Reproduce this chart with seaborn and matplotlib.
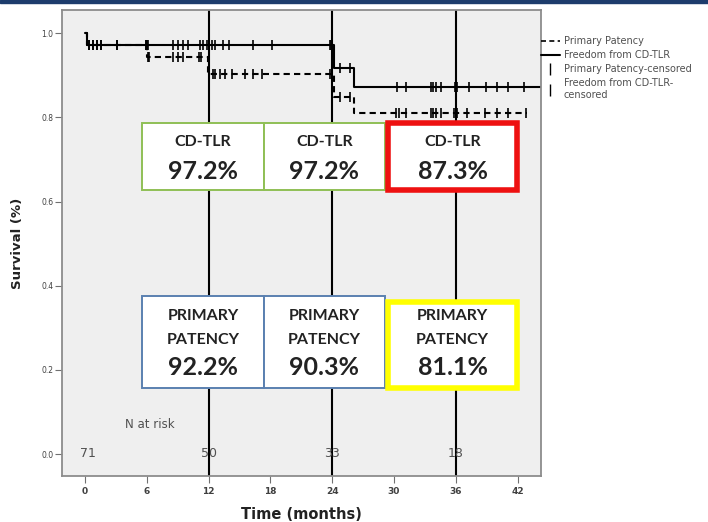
import numpy as np
import pandas as pd
import matplotlib
matplotlib.use("Agg")
import matplotlib.pyplot as plt
import seaborn as sns
from matplotlib.patches import Rectangle
from matplotlib.lines import Line2D

# Kaplan-Meier step estimates (months, survival fraction)
cdtlr_times = [0.0, 0.2, 24.2, 26.1, 44.3]
cdtlr_surv = [1.000, 0.972, 0.917, 0.873, 0.873]
patency_times = [0.0, 0.2, 6.0, 11.9, 24.2, 26.1, 42.9]
patency_surv = [1.000, 0.972, 0.944, 0.903, 0.848, 0.811, 0.811]

# censoring times
cdtlr_censored = [0.4, 0.8, 1.2, 1.6, 3.1, 5.9, 6.0, 6.1, 8.5, 9.0, 9.5, 10.0,
                  11.2, 11.5, 11.8, 12.0, 12.3, 12.6, 13.4, 14.0, 16.3, 18.2,
                  23.8, 23.9, 24.0, 24.8, 25.7, 30.3, 31.2, 33.6, 33.8, 34.1,
                  34.6, 35.9, 36.1, 37.3, 38.9, 40.0, 41.1, 42.6]
patency_censored = [0.4, 0.8, 1.2, 1.6, 3.1, 5.9, 6.1, 6.2, 8.5, 9.0, 9.5, 11.1,
                    11.3, 12.4, 12.6, 13.1, 13.6, 14.3, 15.5, 16.3, 17.2, 23.8,
                    24.0, 24.8, 25.7, 30.2, 30.5, 31.2, 33.6, 33.8, 34.1, 34.6,
                    35.8, 36.1, 37.1, 38.8, 40.0, 41.1, 42.8]

# numbers at risk
risk_times = [0, 12, 24, 36]
risk_counts = [71, 50, 33, 18]

# summary boxes
tlr_values = ["97.2%", "97.2%", "87.3%"]
patency_values = ["92.2%", "90.3%", "81.1%"]

x_ticks = [0, 6, 12, 18, 24, 30, 36, 42]
y_ticks = [0.0, 0.2, 0.4, 0.6, 0.8, 1.0]
milestones = [12, 24, 36]

series_tlr = "Freedom from CD-TLR"
series_pp = "Primary Patency"

curves = pd.concat([
    pd.DataFrame({"time": cdtlr_times, "surv": cdtlr_surv, "series": series_tlr}),
    pd.DataFrame({"time": patency_times, "surv": patency_surv, "series": series_pp}),
], ignore_index=True)


def step_value(times, surv, t):
    idx = np.searchsorted(times, t, side="right") - 1
    return np.asarray(surv)[idx]


censor = pd.concat([
    pd.DataFrame({"time": cdtlr_censored,
                  "surv": step_value(cdtlr_times, cdtlr_surv, cdtlr_censored)}),
    pd.DataFrame({"time": patency_censored,
                  "surv": step_value(patency_times, patency_surv, patency_censored)}),
], ignore_index=True)

sns.set_theme(style="white")
plt.rcParams["font.family"] = ["DejaVu Sans"]

fig = plt.figure(figsize=(7.08, 5.22), dpi=100)
ax = fig.add_axes([62 / 708, 46 / 522, 479 / 708, 466 / 522])
ax.set_facecolor("#efefef")

# header strip
fig.add_artist(Rectangle((0, 1 - 3 / 522), 1, 3 / 522, transform=fig.transFigure,
                         color="#1d3c6c", zorder=10))

for m in milestones:
    ax.axvline(m, color="black", lw=1.5, zorder=1)

sns.lineplot(data=curves, x="time", y="surv", style="series",
             dashes={series_tlr: "", series_pp: (3, 2)},
             color="black", lw=1.5, drawstyle="steps-post",
             estimator=None, sort=False, legend=False, ax=ax, zorder=2)
sns.scatterplot(data=censor, x="time", y="surv", marker="|", s=45,
                color="black", linewidth=1.2, legend=False, ax=ax, zorder=2)

# summary boxes
box_x = [(5.5, 17.4), (17.4, 29.1)]
for (x0, x1) in box_x:
    ax.add_patch(Rectangle((x0, 0.627), x1 - x0, 0.159, facecolor="white",
                           edgecolor="#8fbf55", lw=1.4, zorder=3))
    ax.add_patch(Rectangle((x0, 0.158), x1 - x0, 0.218, facecolor="white",
                           edgecolor="#5a80b0", lw=1.4, zorder=3))
ax.add_patch(Rectangle((29.45, 0.627), 12.45, 0.160, facecolor="white",
                       edgecolor="#ee1111", lw=4.0, zorder=4))
ax.add_patch(Rectangle((29.45, 0.158), 12.45, 0.204, facecolor="white",
                       edgecolor="#ffff00", lw=4.0, zorder=4))

centers = [11.45, 23.25, 35.7]
txt_kw = dict(ha="center", va="center", family="Lato", weight="bold",
              color="#222222", zorder=5)
for cx, v in zip(centers, tlr_values):
    ax.text(cx, 0.742, "CD-TLR", fontsize=11.5, **txt_kw)
    ax.text(cx, 0.672, v, fontsize=18, **txt_kw)
for cx, v in zip(centers, patency_values):
    ax.text(cx, 0.329, "PRIMARY", fontsize=11.5, **txt_kw)
    ax.text(cx, 0.272, "PATENCY", fontsize=11.5, **txt_kw)
    ax.text(cx, 0.205, v, fontsize=18, **txt_kw)

# numbers at risk
ax.text(6.3, 0.071, "N at risk", ha="center", va="center", fontsize=8.5,
        color="#505050", zorder=5)
for t, n in zip(risk_times, risk_counts):
    ax.text(t + (0.3 if t == 0 else 0), 0.002, str(n), ha="center", va="center",
            fontsize=9, color="#505050", zorder=5)

ax.set_xlim(-2.23, 44.27)
ax.set_ylim(-0.052, 1.055)
ax.set_xticks(x_ticks)
ax.set_yticks(y_ticks)
ax.set_yticklabels([f"{v:.1f}" for v in y_ticks])
ax.tick_params(axis="both", direction="out", length=5, width=0.8, color="#707070",
               labelcolor="#404040", left=True, bottom=True)
ax.tick_params(axis="y", labelsize=5.5, pad=1)
ax.tick_params(axis="x", labelsize=6.5, pad=3)
for lbl in ax.get_xticklabels():
    lbl.set_fontweight("bold")
for sp in ax.spines.values():
    sp.set_color("#8c8c8c")
    sp.set_linewidth(1.3)

ax.set_xlabel("Time (months)", fontsize=10.5, weight="bold", color="#222222")
ax.set_ylabel("Survival (%)", fontsize=9.5, weight="bold", color="#222222")
ax.xaxis.set_label_coords(0.5, -0.066)
ax.yaxis.set_label_coords(-0.080, 0.5)

handles = [
    Line2D([0], [0], color="black", lw=1.2, ls=(0, (3, 2))),
    Line2D([0], [0], color="black", lw=1.5),
    Line2D([0], [0], color="black", marker="|", ls="none", markersize=8),
    Line2D([0], [0], color="black", marker="|", ls="none", markersize=8),
]
labels = [series_pp, series_tlr, "Primary Patency-censored",
          "Freedom from CD-TLR-\ncensored"]
ax.legend(handles, labels, loc="upper left", bbox_to_anchor=(0.995, 0.948),
          frameon=False, fontsize=7, labelcolor="#505050", handlelength=2.0,
          handletextpad=0.4, borderaxespad=0, borderpad=0.2, labelspacing=0.42)

fig.savefig("out.png", dpi=100)
